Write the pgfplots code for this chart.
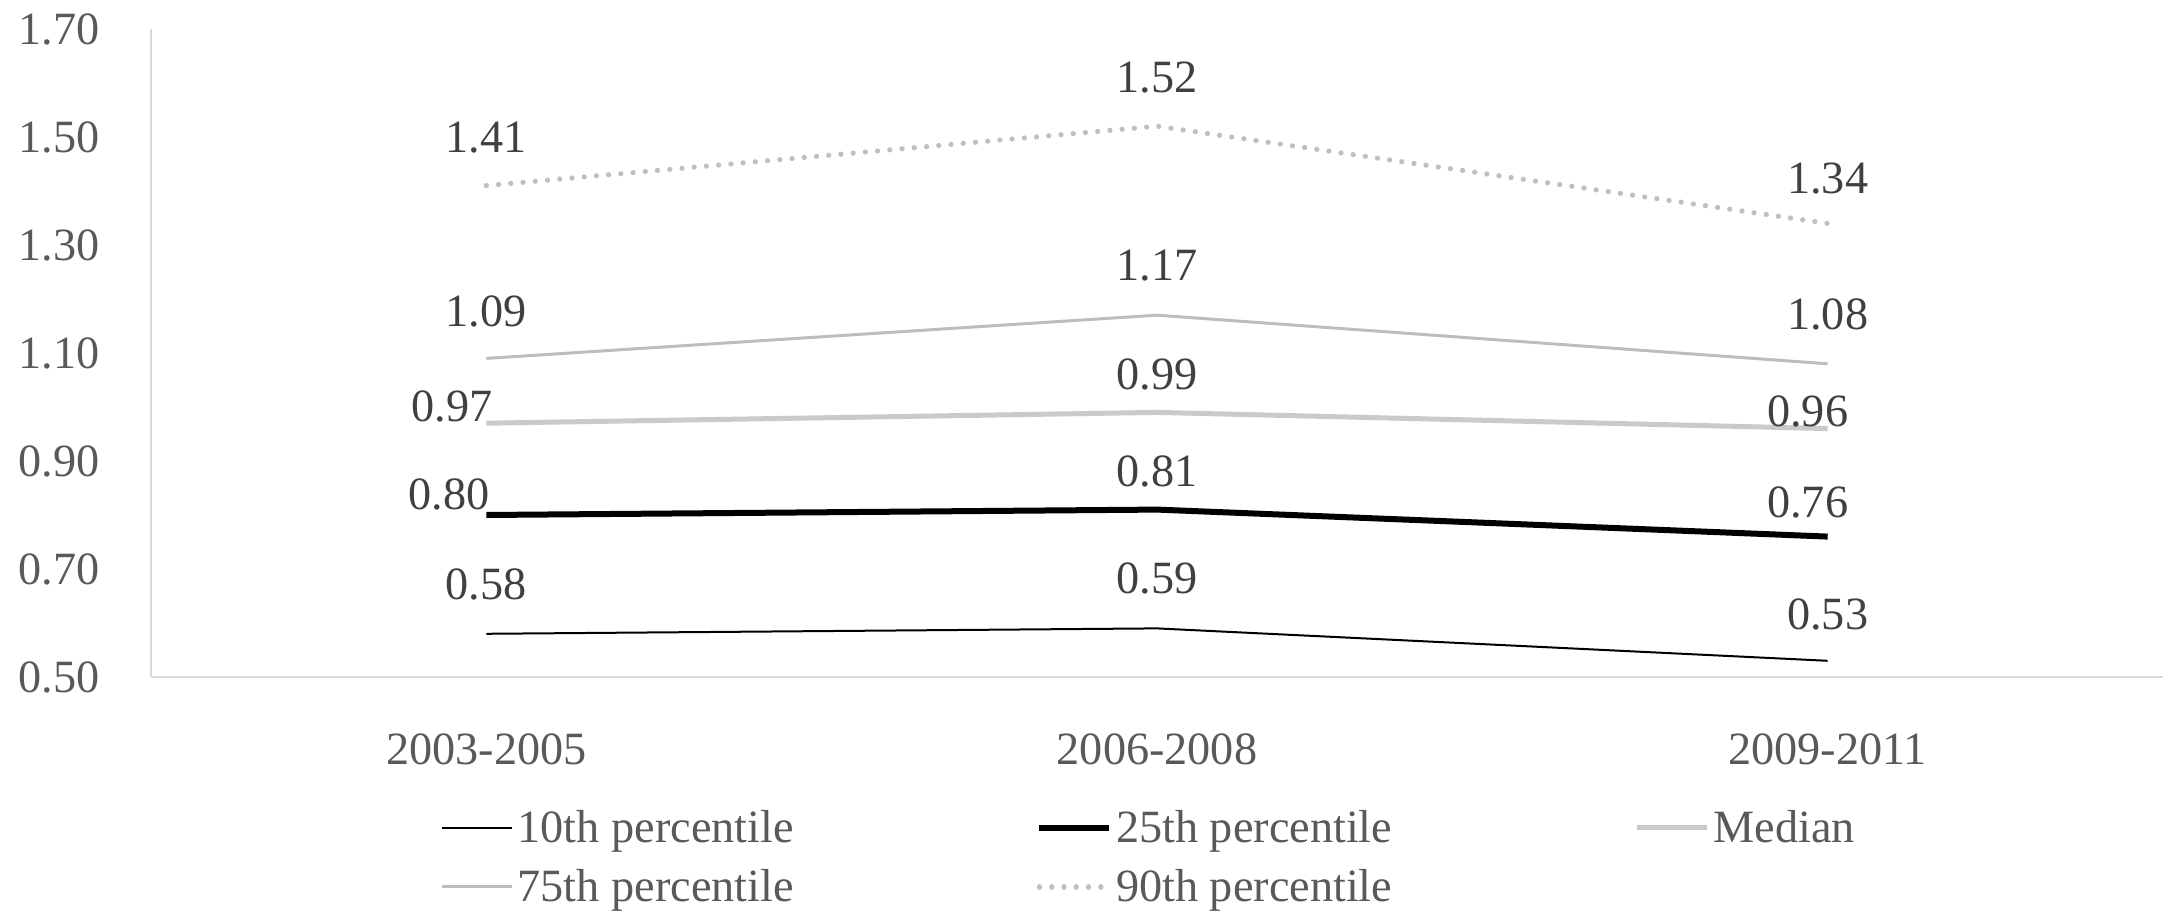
\documentclass[border=0pt]{standalone}
\usepackage{fontspec}
\setmainfont{Liberation Serif}
\usepackage{pgfplots}
\usepackage{pgfplotstable}
\pgfplotsset{compat=1.18}
\definecolor{tickgray}{HTML}{595959}
\definecolor{labgray}{HTML}{404040}
\definecolor{axgray}{HTML}{D9D9D9}
\definecolor{medgray}{HTML}{CACACA}
\definecolor{ssgray}{HTML}{BDBDBD}
\definecolor{ninegray}{HTML}{BFBFBF}
\newcommand{\chartfont}{\fontsize{18.5}{22}\selectfont}

\pgfplotstableread{
x y dx dy
0 0.58 0 19.6
1 0.59 0 20
2 0.53 0 18.4
}\tenth
\pgfplotstableread{
x y dx dy
0 0.80 -14.8 8.4
1 0.81 0 15.2
2 0.76 -8 13.6
}\twentyfifth
\pgfplotstableread{
x y dx dy
0 0.97 -13.6 6.8
1 0.99 0 15.2
2 0.96 -8 6.8
}\median
\pgfplotstableread{
x y dx dy
0 1.09 0 18.8
1 1.17 0 20
2 1.08 0 19.6
}\seventyfifth
\pgfplotstableread{
x y dx dy
0 1.41 0 19.2
1 1.52 0 19.6
2 1.34 0 18
}\ninetieth

\begin{document}
\begin{tikzpicture}
\begin{axis}[
  at={(0pt,0pt)}, anchor=south west,
  scale only axis, width=804.8pt, height=259.2pt,
  xmin=-0.5, xmax=2.5, ymin=0.5, ymax=1.7,
  enlargelimits=false, clip=false,
  axis lines*=left,
  axis line style={draw=axgray, line width=1pt},
  major tick length=0pt,
  xtick={0,1,2},
  xticklabels={2003-2005,2006-2008,2009-2011},
  ytick={0.5,0.7,0.9,1.1,1.3,1.5,1.7},
  tick label style={font=\chartfont, text=tickgray},
  yticklabel style={inner sep=0pt, anchor=east, xshift=-20.4pt,
    /pgf/number format/.cd, fixed, fixed zerofill, precision=2, assume math mode=true},
  xticklabel style={inner sep=0pt, anchor=base, yshift=-35pt},
  point meta=y,
  nodes near coords={\pgfmathprintnumber[fixed,fixed zerofill,precision=2,assume math mode=true]{\pgfplotspointmeta}},
  visualization depends on={\thisrow{dx} \as \dx},
  visualization depends on={\thisrow{dy} \as \dy},
  every node near coord/.append style={font=\chartfont, text=labgray, anchor=center, inner sep=0pt, xshift=\dx pt, yshift=\dy pt},
  legend columns=3,
  legend cell align=left,
  legend image code/.code={\draw[#1] (0pt,0pt) -- (28pt,0pt);},
  legend style={at={(0.1441,-0.2785)}, anchor=west, draw=none, fill=none,
    inner sep=0pt, outer sep=0pt, row sep=7.6pt,
    nodes={inner sep=0pt, text height=14pt, text depth=2pt, font=\chartfont, text=tickgray},
    /tikz/every odd column/.style={column sep=1.5pt},
    /tikz/every even column/.style={column sep=83.5pt}},
]
\addplot[black, line width=0.8pt, mark=none] table[x=x,y=y] {\tenth};
\addlegendentry{\makebox[124pt][l]{10th percentile}}
\addplot[black, line width=2.4pt, mark=none] table[x=x,y=y] {\twentyfifth};
\addlegendentry{\makebox[124pt][l]{25th percentile}}
\addplot[medgray, line width=2pt, mark=none] table[x=x,y=y] {\median};
\addlegendentry{\makebox[124pt][l]{Median}}
\addplot[ssgray, line width=1.2pt, mark=none] table[x=x,y=y] {\seventyfifth};
\addlegendentry{\makebox[124pt][l]{75th percentile}}
\addplot[ninegray, line width=2.1pt, line cap=round, dash pattern=on 0.01pt off 4.9pt, mark=none] table[x=x,y=y] {\ninetieth};
\addlegendentry{\makebox[124pt][l]{90th percentile}}
\end{axis}
\pgfresetboundingbox
\path[use as bounding box] (-60.4pt,-95.6pt) rectangle (807.6pt,270.8pt);
\end{tikzpicture}
\end{document}
